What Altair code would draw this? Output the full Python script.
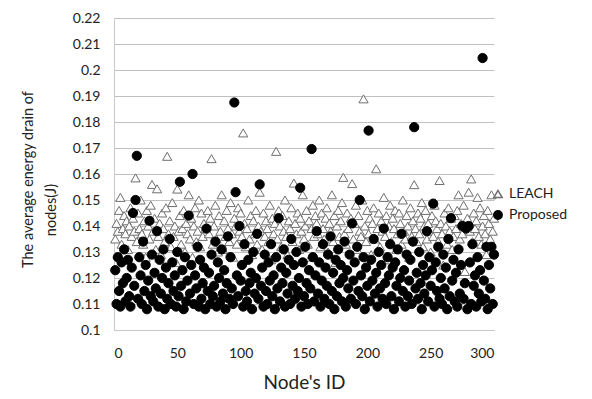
import altair as alt
import pandas as pd

node_ids = list(range(1, 301))

leach = [
    0.135, 0.141, 0.138, 0.146, 0.151, 0.133, 0.139, 0.144, 0.137, 0.142,
    0.131, 0.140, 0.147, 0.136, 0.143, 0.138, 0.1585, 0.134, 0.145, 0.139,
    0.150, 0.137, 0.133, 0.142, 0.128, 0.146, 0.140, 0.135, 0.148, 0.156,
    0.138, 0.143, 0.131, 0.1543, 0.136, 0.141, 0.129, 0.145, 0.139, 0.134,
    0.147, 0.1668, 0.137, 0.142, 0.132, 0.149, 0.136, 0.140, 0.126, 0.1542,
    0.138, 0.144, 0.133, 0.139, 0.146, 0.130, 0.141, 0.137, 0.152, 0.135,
    0.143, 0.128, 0.140, 0.147, 0.134, 0.138, 0.150, 0.132, 0.145, 0.136,
    0.141, 0.139, 0.124, 0.146, 0.137, 0.143, 0.1659, 0.133, 0.140, 0.148,
    0.135, 0.130, 0.144, 0.138, 0.152, 0.131, 0.142, 0.136, 0.146, 0.139,
    0.134, 0.149, 0.137, 0.128, 0.143, 0.140, 0.133, 0.147, 0.138, 0.145,
    0.136, 0.1758, 0.141, 0.132, 0.139, 0.150, 0.135, 0.144, 0.129, 0.142,
    0.137, 0.146, 0.133, 0.140, 0.153, 0.138, 0.131, 0.145, 0.136, 0.142,
    0.139, 0.134, 0.148, 0.127, 0.143, 0.137, 0.141, 0.1687, 0.135, 0.146,
    0.140, 0.132, 0.144, 0.138, 0.150, 0.136, 0.129, 0.142, 0.139, 0.147,
    0.134, 0.1565, 0.141, 0.137, 0.145, 0.131, 0.143, 0.138, 0.152, 0.135,
    0.140, 0.146, 0.133, 0.142, 0.128, 0.139, 0.148, 0.136, 0.144, 0.141,
    0.137, 0.150, 0.132, 0.145, 0.139, 0.135, 0.143, 0.147, 0.130, 0.141,
    0.138, 0.152, 0.134, 0.144, 0.126, 0.140, 0.146, 0.136, 0.142, 0.149,
    0.1587, 0.137, 0.133, 0.145, 0.139, 0.1125, 0.143, 0.1563, 0.135, 0.141,
    0.148, 0.131, 0.144, 0.138, 0.136, 0.150, 0.1889, 0.140, 0.134, 0.146,
    0.137, 0.143, 0.129, 0.141, 0.147, 0.135, 0.162, 0.139, 0.145, 0.132,
    0.142, 0.138, 0.151, 0.136, 0.144, 0.127, 0.140, 0.148, 0.134, 0.143,
    0.139, 0.146, 0.131, 0.137, 0.145, 0.141, 0.133, 0.150, 0.138, 0.135,
    0.144, 0.140, 0.128, 0.147, 0.136, 0.142, 0.1559, 0.139, 0.134, 0.145,
    0.137, 0.143, 0.149, 0.132, 0.140, 0.146, 0.135, 0.141, 0.138, 0.130,
    0.144, 0.136, 0.148, 0.142, 0.139, 0.134, 0.1575, 0.141, 0.137, 0.125,
    0.145, 0.140, 0.133, 0.147, 0.138, 0.143, 0.131, 0.136, 0.144, 0.139,
    0.146, 0.152, 0.135, 0.141, 0.137, 0.148, 0.1225, 0.140, 0.143, 0.153,
    0.138, 0.1581, 0.134, 0.145, 0.139, 0.142, 0.151, 0.136, 0.147, 0.133,
    0.140, 0.144, 0.137, 0.129, 0.146, 0.141, 0.135, 0.152, 0.138, 0.143,
]

proposed = [
    0.123, 0.110, 0.128, 0.115, 0.109, 0.126, 0.118, 0.131, 0.111, 0.120,
    0.127, 0.113, 0.109, 0.124, 0.145, 0.117, 0.150, 0.167, 0.112, 0.128,
    0.121, 0.110, 0.134, 0.115, 0.125, 0.108, 0.119, 0.142, 0.113, 0.129,
    0.111, 0.122, 0.116, 0.138, 0.109, 0.127, 0.114, 0.120, 0.131, 0.108,
    0.124, 0.112, 0.118, 0.135, 0.110, 0.126, 0.115, 0.121, 0.109, 0.130,
    0.113, 0.157, 0.117, 0.123, 0.108, 0.128, 0.111, 0.119, 0.144, 0.114,
    0.125, 0.160, 0.110, 0.121, 0.116, 0.132, 0.109, 0.127, 0.112, 0.118,
    0.124, 0.108, 0.139, 0.115, 0.122, 0.110, 0.129, 0.113, 0.117, 0.134,
    0.109, 0.126, 0.120, 0.111, 0.131, 0.114, 0.123, 0.108, 0.118, 0.136,
    0.112, 0.128, 0.116, 0.110, 0.1875, 0.153, 0.121, 0.113, 0.140, 0.119,
    0.125, 0.109, 0.133, 0.115, 0.111, 0.127, 0.118, 0.122, 0.108, 0.130,
    0.114, 0.120, 0.137, 0.112, 0.156, 0.117, 0.124, 0.109, 0.129, 0.115,
    0.110, 0.126, 0.119, 0.133, 0.113, 0.121, 0.108, 0.128, 0.116, 0.143,
    0.111, 0.124, 0.118, 0.131, 0.109, 0.122, 0.114, 0.127, 0.110, 0.135,
    0.117, 0.125, 0.112, 0.130, 0.115, 0.120, 0.1547, 0.109, 0.126, 0.113,
    0.132, 0.118, 0.110, 0.123, 0.116, 0.1696, 0.128, 0.111, 0.121, 0.138,
    0.114, 0.126, 0.109, 0.119, 0.133, 0.112, 0.124, 0.117, 0.129, 0.110,
    0.136, 0.115, 0.122, 0.108, 0.127, 0.113, 0.131, 0.118, 0.125, 0.111,
    0.120, 0.134, 0.109, 0.123, 0.116, 0.129, 0.112, 0.141, 0.119, 0.126,
    0.110, 0.132, 0.115, 0.150, 0.121, 0.113, 0.128, 0.108, 0.124, 0.117,
    0.1767, 0.111, 0.127, 0.119, 0.135, 0.114, 0.122, 0.109, 0.130, 0.116,
    0.125, 0.112, 0.139, 0.118, 0.110, 0.128, 0.121, 0.133, 0.113, 0.124,
    0.108, 0.126, 0.117, 0.131, 0.111, 0.120, 0.137, 0.115, 0.123, 0.109,
    0.129, 0.113, 0.119, 0.127, 0.110, 0.134, 0.178, 0.116, 0.122, 0.112,
    0.130, 0.118, 0.108, 0.125, 0.114, 0.121, 0.138, 0.111, 0.128, 0.117,
    0.123, 0.1486, 0.109, 0.126, 0.115, 0.132, 0.112, 0.120, 0.110, 0.129,
    0.116, 0.124, 0.108, 0.135, 0.113, 0.143, 0.119, 0.127, 0.111, 0.122,
    0.109, 0.131, 0.114, 0.125, 0.140, 0.112, 0.118, 0.139, 0.108, 0.140,
    0.126, 0.110, 0.133, 0.117, 0.121, 0.109, 0.128, 0.114, 0.123, 0.111,
    0.2046, 0.119, 0.112, 0.132, 0.108, 0.125, 0.116, 0.132, 0.110, 0.129,
]

series_names = ["LEACH", "Proposed"]
y_ticks = [0.1, 0.11, 0.12, 0.13, 0.14, 0.15, 0.16, 0.17, 0.18, 0.19, 0.2, 0.21, 0.22]
x_ticks = [0, 50, 100, 150, 200, 250, 300]
y_title_line1 = "The average energy drain of"
y_title_line2 = "nodes(J)"

df = pd.concat([
    pd.DataFrame({"node": node_ids, "energy": leach, "series": "LEACH"}),
    pd.DataFrame({"node": node_ids, "energy": proposed, "series": "Proposed"}),
], ignore_index=True)

FONT = "Lato"

points = alt.Chart(df).mark_point(opacity=1, strokeWidth=1, size=85).encode(
    x=alt.X("node:Q", scale=alt.Scale(domain=[0, 300], nice=False),
            axis=alt.Axis(values=x_ticks, title="Node's ID", grid=False, ticks=False,
                          labelPadding=16, labelFontSize=14, titleFontSize=19,
                          titleFontWeight="normal", titleY=52, titleBaseline="middle",
                          domainColor="#c8c8c8", labelColor="#222", titleColor="#222")),
    y=alt.Y("energy:Q", scale=alt.Scale(domain=[0.1, 0.22], nice=False, zero=False),
            axis=alt.Axis(values=y_ticks, format=".2~f",
                          title=y_title_line1,
                          grid=True, gridColor="#c0c0c0", ticks=False,
                          labelPadding=14, labelFontSize=14, titleFontSize=14.5,
                          titleFontWeight="normal", titleX=-86, titleY=161,
                          titleBaseline="middle", titleAngle=-90,
                          domainColor="#c8c8c8", labelColor="#222", titleColor="#222")),
    shape=alt.Shape("series:N", scale=alt.Scale(domain=series_names, range=["triangle-up", "circle"]),
                    legend=alt.Legend(title=None, orient="none", legendX=377, legendY=169,
                                      labelFontSize=14, labelFont=FONT, labelColor="#222",
                                      symbolSize=70, rowPadding=6, padding=0)),
    fill=alt.Fill("series:N", scale=alt.Scale(domain=series_names, range=["white", "black"])),
    stroke=alt.Stroke("series:N", scale=alt.Scale(domain=series_names, range=["#6e6e6e", "black"])),
)

title2 = alt.Chart(pd.DataFrame({"t": [y_title_line2]})).mark_text(
    angle=270, fontSize=14.5, font=FONT, color="#222", baseline="middle", align="center"
).encode(
    text="t:N",
    x=alt.value(-62),
    y=alt.value(192),
)

chart = alt.layer(points, title2).properties(
    width=380, height=312,
    autosize=alt.AutoSizeParams(type="none"),
    padding={"left": 106, "top": 10, "right": 90, "bottom": 68},
).configure(font=FONT).configure_view(stroke=None)

chart.save("out.html", embed_options={"renderer": "svg", "actions": False})
